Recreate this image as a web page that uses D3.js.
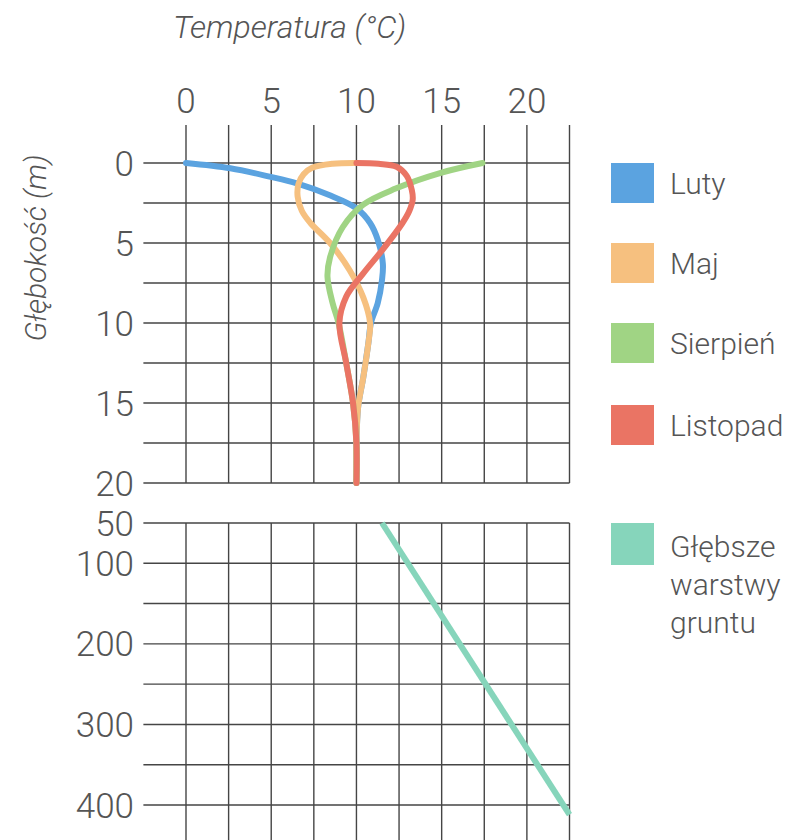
<!DOCTYPE html>
<html>
<head>
<meta charset="utf-8">
<script src="https://cdn.jsdelivr.net/npm/d3@7"></script>
<style>
  html, body { margin: 0; padding: 0; background: #fff; }
  svg { display: block; }
  text { font-family: "Roboto", "Liberation Sans", Arial, sans-serif; font-weight: 300; fill: #555; }
</style>
</head>
<body>
<svg id="chart" width="788" height="840"></svg>
<script>
// ---- Data ----
const tempTicks = [0, 5, 10, 15, 20];
const upperDepthTicks = [0, 5, 10, 15, 20];
const lowerDepthTicks = [50, 100, 200, 300, 400];

const lutyDepth = [0, 0.33, 0.85, 1.27, 2, 2.83, 3.75, 4.8, 6.3, 7.3, 8.75, 10, 11.25, 13.4, 15.25, 17.5, 20];
const lutyTemp  = [0, 2.6, 4.9, 6.5, 8.4, 10, 10.8, 11.25, 11.55, 11.5, 11.25, 10.85, 10.7, 10.4, 10.1, 10, 10];

const majDepth = [0, 0.05, 0.3, 0.7, 1.3, 2.1, 3.0, 3.75, 5, 6.7, 8.4, 10, 11.25, 13.4, 15.25, 17.5, 20];
const majTemp  = [10, 8.6, 7.4, 6.9, 6.6, 6.55, 6.8, 7.3, 8.45, 9.6, 10.4, 10.8, 10.7, 10.4, 10.1, 10, 10];

const sierpienDepth = [0, 0.6, 1.6, 2.6, 4, 5.9, 7.1, 8.75, 10, 12.5, 15, 17.5, 20];
const sierpienTemp  = [17.4, 15, 12.3, 10.4, 9.2, 8.45, 8.3, 8.6, 8.95, 9.4, 9.8, 10, 10];

const listopadDepth = [0, 0.05, 0.23, 0.8, 1.7, 2.3, 3.0, 3.75, 5.4, 6.9, 8.35, 10, 12.5, 15, 17.5, 20];
const listopadTemp  = [10, 11.3, 12.35, 12.95, 13.25, 13.3, 13.1, 12.7, 11.55, 10.4, 9.4, 9.0, 9.4, 9.8, 10, 10];

const deepDepth = [50, 412];
const deepTemp  = [11.5, 22.5];

const seriesNames  = ["Luty", "Maj", "Sierpień", "Listopad"];
const seriesColors = ["#5ba3e0", "#f6c07f", "#a0d484", "#ea7464"];
const deepName   = ["Głębsze", "warstwy", "gruntu"];
const deepColor  = "#86d5bb";

// ---- Layout ----
const svg = d3.select("#chart");
const x = d3.scaleLinear().domain([0, 22.5]).range([186, 569.5]);
const yTop = d3.scaleLinear().domain([0, 20]).range([163, 483]);
const yBot = d3.scaleLinear().domain([50, 400]).range([523, 805]);

const gridColor = "#454545";
const gridW = 1.4;
const xGrid = d3.range(0, 22.5 + 0.01, 2.5);

// Upper grid
const g = svg.append("g");
g.selectAll(".vu").data(xGrid).join("line")
  .attr("x1", d => x(d)).attr("x2", d => x(d))
  .attr("y1", 125).attr("y2", yTop(20))
  .attr("stroke", gridColor).attr("stroke-width", gridW);
g.selectAll(".hu").data(d3.range(0, 20.01, 2.5)).join("line")
  .attr("x1", x(-2.5)).attr("x2", x(22.5))
  .attr("y1", d => yTop(d)).attr("y2", d => yTop(d))
  .attr("stroke", gridColor).attr("stroke-width", gridW);

// Lower grid
g.selectAll(".vl").data(xGrid).join("line")
  .attr("x1", d => x(d)).attr("x2", d => x(d))
  .attr("y1", yBot(50)).attr("y2", 840)
  .attr("stroke", gridColor).attr("stroke-width", gridW);
g.selectAll(".hl").data(d3.range(50, 400.01, 50)).join("line")
  .attr("x1", x(-2.5)).attr("x2", x(22.5))
  .attr("y1", d => yBot(d)).attr("y2", d => yBot(d))
  .attr("stroke", gridColor).attr("stroke-width", gridW);

// Axis labels
svg.append("text").text("Temperatura (°C)")
  .attr("x", 173).attr("y", 38).attr("font-size", 32).attr("font-style", "italic");
svg.append("text").text("Głębokość (m)")
  .attr("transform", "translate(46,248) rotate(-90)")
  .attr("text-anchor", "middle").attr("font-size", 30).attr("font-style", "italic");

svg.selectAll(".xt").data(tempTicks).join("text")
  .attr("x", d => x(d)).attr("y", 113).attr("text-anchor", "middle")
  .attr("font-size", 35).text(d => d);
svg.selectAll(".yt").data(upperDepthTicks).join("text")
  .attr("x", 134).attr("y", d => yTop(d)).attr("dy", "0.36em").attr("text-anchor", "end")
  .attr("font-size", 35).text(d => d);
svg.selectAll(".yb").data(lowerDepthTicks).join("text")
  .attr("x", 134).attr("y", d => yBot(d)).attr("dy", "0.36em").attr("text-anchor", "end")
  .attr("font-size", 35).text(d => d);

// Curves
const depths = [lutyDepth, majDepth, sierpienDepth, listopadDepth];
const temps = [lutyTemp, majTemp, sierpienTemp, listopadTemp];
const line = d3.line().x(d => x(d[1])).y(d => yTop(d[0])).curve(d3.curveCatmullRom.alpha(0.5));
seriesNames.forEach((n, i) => {
  const pts = depths[i].map((d, j) => [d, temps[i][j]]);
  svg.append("path").datum(pts).attr("d", line)
    .attr("fill", "none").attr("stroke", seriesColors[i])
    .attr("stroke-width", 6).attr("stroke-linecap", "round").attr("stroke-linejoin", "round");
});
const deepLine = d3.line().x(d => x(d[1])).y(d => yBot(d[0]));
svg.append("path").datum(deepDepth.map((d, j) => [d, deepTemp[j]])).attr("d", deepLine)
  .attr("fill", "none").attr("stroke", deepColor).attr("stroke-width", 6);

// Legend
const legY = [183, 263, 343, 425];
seriesNames.forEach((n, i) => {
  svg.append("rect").attr("x", 611).attr("y", legY[i] - 20).attr("width", 43).attr("height", 40)
    .attr("fill", seriesColors[i]);
  svg.append("text").attr("x", 670).attr("y", legY[i]).attr("dy", "0.35em")
    .attr("font-size", 30).text(n);
});
svg.append("rect").attr("x", 611).attr("y", 523).attr("width", 43).attr("height", 42).attr("fill", deepColor);
deepName.forEach((t, i) => {
  svg.append("text").attr("x", 670).attr("y", 557 + i * 38).attr("font-size", 30).text(t);
});
</script>
</body>
</html>
